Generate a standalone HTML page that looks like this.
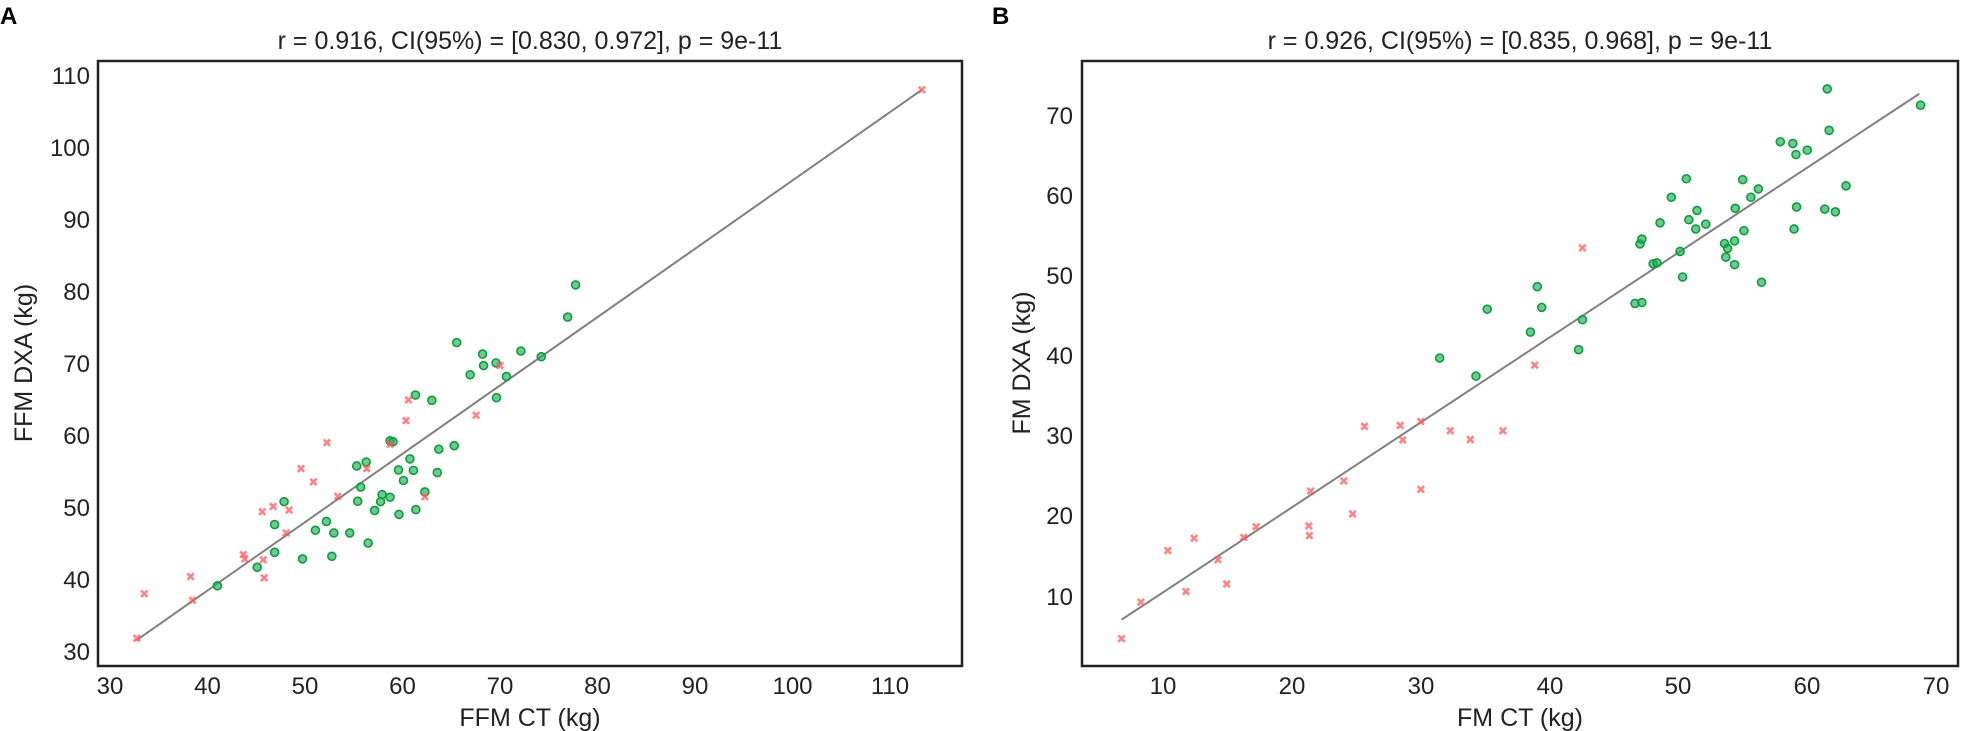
<!DOCTYPE html>
<html><head><meta charset="utf-8"><style>
html,body{margin:0;padding:0;background:#fff}
svg{display:block;font-family:"Liberation Sans",Arial,sans-serif}
</style></head><body>
<svg width="1962" height="731" viewBox="0 0 1962 731" xmlns="http://www.w3.org/2000/svg">
<defs>
<ellipse id="ga" rx="8.04" ry="9.08" fill="rgba(30,175,80,0.65)" stroke="#0e9b40" stroke-width="1.6" vector-effect="non-scaling-stroke"/>
<path id="xa" d="M-6.4,-7.3 L6.4,7.3 M-6.4,7.3 L6.4,-7.3" stroke="rgba(255,90,90,0.75)" stroke-width="2.6" vector-effect="non-scaling-stroke" fill="none"/>
<ellipse id="gb" rx="6.39" ry="9.08" fill="rgba(30,175,80,0.65)" stroke="#0e9b40" stroke-width="1.6" vector-effect="non-scaling-stroke"/>
<path id="xb" d="M-5.1,-7.3 L5.1,7.3 M-5.1,7.3 L5.1,-7.3" stroke="rgba(255,90,90,0.75)" stroke-width="2.6" vector-effect="non-scaling-stroke" fill="none"/>
</defs>
<rect width="1962" height="731" fill="#fff"/>
<text x="0" y="24" font-size="24" font-weight="bold" fill="#000">A</text>
<text x="992" y="24" font-size="24" font-weight="bold" fill="#000">B</text>

<!-- Panel A -->
<text x="530" y="49" font-size="25" text-anchor="middle" fill="#222">r = 0.916, CI(95%) = [0.830, 0.972], p = 9e-11</text>
<g font-size="24" fill="#222" text-anchor="end">
<text x="90" y="84">110</text><text x="90" y="156">100</text><text x="90" y="228">90</text><text x="90" y="300">80</text><text x="90" y="372">70</text><text x="90" y="444">60</text><text x="90" y="516">50</text><text x="90" y="588">40</text><text x="90" y="660">30</text>
</g>
<g font-size="24" fill="#222" text-anchor="middle">
<text x="110" y="694">30</text><text x="207.5" y="694">40</text><text x="305" y="694">50</text><text x="402.5" y="694">60</text><text x="500" y="694">70</text><text x="597.5" y="694">80</text><text x="695" y="694">90</text><text x="792.5" y="694">100</text><text x="890" y="694">110</text>
</g>
<text x="530" y="726" font-size="25" text-anchor="middle" fill="#222">FFM CT (kg)</text>
<text transform="translate(32,363) rotate(-90)" font-size="25" text-anchor="middle" fill="#222">FFM DXA (kg)</text>

<g transform="translate(0,40) scale(0.4975,0.4405)">
<line x1="274" y1="1363" x2="1853" y2="113" stroke="#808080" stroke-width="2" vector-effect="non-scaling-stroke"/>
<g>
<use href="#ga" x="437" y="1239"/><use href="#ga" x="517" y="1197"/><use href="#ga" x="552" y="1163"/><use href="#ga" x="552" y="1100"/><use href="#ga" x="571" y="1048"/><use href="#ga" x="608" y="1178"/><use href="#ga" x="634" y="1113"/><use href="#ga" x="656" y="1093"/><use href="#ga" x="667" y="1172"/><use href="#ga" x="671" y="1119"/><use href="#ga" x="703" y="1119"/><use href="#ga" x="717" y="967"/><use href="#ga" x="719" y="1047"/><use href="#ga" x="725" y="1015"/><use href="#ga" x="736" y="958"/><use href="#ga" x="740" y="1142"/><use href="#ga" x="753" y="1068"/><use href="#ga" x="765" y="1048"/><use href="#ga" x="768" y="1032"/><use href="#ga" x="784" y="1038"/><use href="#ga" x="784" y="910"/><use href="#ga" x="790" y="912"/><use href="#ga" x="801" y="976"/><use href="#ga" x="802" y="1077"/><use href="#ga" x="811" y="1000"/><use href="#ga" x="824" y="951"/><use href="#ga" x="831" y="977"/><use href="#ga" x="836" y="1066"/><use href="#ga" x="835" y="806"/><use href="#ga" x="854" y="1026"/><use href="#ga" x="868" y="818"/><use href="#ga" x="879" y="982"/><use href="#ga" x="882" y="929"/><use href="#ga" x="913" y="921"/><use href="#ga" x="918" y="687"/><use href="#ga" x="945" y="760"/><use href="#ga" x="970" y="713"/><use href="#ga" x="972" y="739"/><use href="#ga" x="997" y="733"/><use href="#ga" x="998" y="812"/><use href="#ga" x="1018" y="764"/><use href="#ga" x="1047" y="706"/><use href="#ga" x="1088" y="719"/><use href="#ga" x="1141" y="629"/><use href="#ga" x="1157" y="556"/>
</g>
<g>
<use href="#xa" x="275" y="1358"/><use href="#xa" x="290" y="1257"/><use href="#xa" x="383" y="1218"/><use href="#xa" x="387" y="1272"/><use href="#xa" x="489" y="1168"/><use href="#xa" x="492" y="1178"/><use href="#xa" x="527" y="1071"/><use href="#xa" x="529" y="1180"/><use href="#xa" x="531" y="1221"/><use href="#xa" x="549" y="1059"/><use href="#xa" x="575" y="1119"/><use href="#xa" x="581" y="1067"/><use href="#xa" x="605" y="973"/><use href="#xa" x="630" y="1003"/><use href="#xa" x="657" y="914"/><use href="#xa" x="679" y="1036"/><use href="#xa" x="737" y="973"/><use href="#xa" x="784" y="918"/><use href="#xa" x="816" y="864"/><use href="#xa" x="821" y="817"/><use href="#xa" x="854" y="1037"/><use href="#xa" x="957" y="852"/><use href="#xa" x="1005" y="739"/><use href="#xa" x="1853" y="113"/>
</g>
</g>
<rect x="98" y="61" width="864" height="605" fill="none" stroke="#222" stroke-width="2.5"/>

<!-- Panel B -->
<text x="1520" y="49" font-size="25" text-anchor="middle" fill="#222">r = 0.926, CI(95%) = [0.835, 0.968], p = 9e-11</text>
<g font-size="24" fill="#222" text-anchor="end">
<text x="1073" y="124">70</text><text x="1073" y="204">60</text><text x="1073" y="284">50</text><text x="1073" y="364">40</text><text x="1073" y="444">30</text><text x="1073" y="524">20</text><text x="1073" y="605">10</text>
</g>
<g font-size="24" fill="#222" text-anchor="middle">
<text x="1163" y="694">10</text><text x="1292" y="694">20</text><text x="1421" y="694">30</text><text x="1550" y="694">40</text><text x="1678" y="694">50</text><text x="1807" y="694">60</text><text x="1936" y="694">70</text>
</g>
<text x="1520" y="726" font-size="25" text-anchor="middle" fill="#222">FM CT (kg)</text>
<text transform="translate(1030,363) rotate(-90)" font-size="25" text-anchor="middle" fill="#222">FM DXA (kg)</text>

<g transform="translate(980,40) scale(0.6262,0.4405)">
<line x1="226" y1="1316" x2="1500" y2="122" stroke="#808080" stroke-width="2" vector-effect="non-scaling-stroke"/>
<g>
<use href="#gb" x="734" y="722"/><use href="#gb" x="792" y="763"/><use href="#gb" x="810" y="611"/><use href="#gb" x="879" y="663"/><use href="#gb" x="890" y="560"/><use href="#gb" x="897" y="607"/><use href="#gb" x="956" y="703"/><use href="#gb" x="962" y="635"/><use href="#gb" x="1046" y="598"/><use href="#gb" x="1057" y="596"/><use href="#gb" x="1054" y="463"/><use href="#gb" x="1057" y="452"/><use href="#gb" x="1075" y="508"/><use href="#gb" x="1081" y="506"/><use href="#gb" x="1086" y="415"/><use href="#gb" x="1104" y="357"/><use href="#gb" x="1118" y="480"/><use href="#gb" x="1122" y="538"/><use href="#gb" x="1128" y="315"/><use href="#gb" x="1132" y="408"/><use href="#gb" x="1143" y="429"/><use href="#gb" x="1145" y="387"/><use href="#gb" x="1159" y="418"/><use href="#gb" x="1189" y="462"/><use href="#gb" x="1191" y="493"/><use href="#gb" x="1194" y="473"/><use href="#gb" x="1205" y="456"/><use href="#gb" x="1205" y="510"/><use href="#gb" x="1206" y="382"/><use href="#gb" x="1218" y="317"/><use href="#gb" x="1220" y="433"/><use href="#gb" x="1231" y="357"/><use href="#gb" x="1243" y="338"/><use href="#gb" x="1248" y="550"/><use href="#gb" x="1278" y="231"/><use href="#gb" x="1298" y="235"/><use href="#gb" x="1300" y="429"/><use href="#gb" x="1303" y="260"/><use href="#gb" x="1304" y="379"/><use href="#gb" x="1321" y="250"/><use href="#gb" x="1349" y="384"/><use href="#gb" x="1353" y="111"/><use href="#gb" x="1356" y="205"/><use href="#gb" x="1366" y="390"/><use href="#gb" x="1383" y="331"/><use href="#gb" x="1502" y="148"/>
</g>
<g>
<use href="#xb" x="226" y="1359"/><use href="#xb" x="257" y="1276"/><use href="#xb" x="300" y="1159"/><use href="#xb" x="329" y="1252"/><use href="#xb" x="342" y="1131"/><use href="#xb" x="380" y="1180"/><use href="#xb" x="394" y="1235"/><use href="#xb" x="421" y="1129"/><use href="#xb" x="441" y="1105"/><use href="#xb" x="525" y="1103"/><use href="#xb" x="526" y="1125"/><use href="#xb" x="528" y="1024"/><use href="#xb" x="581" y="1001"/><use href="#xb" x="595" y="1076"/><use href="#xb" x="614" y="877"/><use href="#xb" x="671" y="875"/><use href="#xb" x="675" y="908"/><use href="#xb" x="704" y="866"/><use href="#xb" x="704" y="1020"/><use href="#xb" x="751" y="887"/><use href="#xb" x="783" y="907"/><use href="#xb" x="835" y="887"/><use href="#xb" x="886" y="738"/><use href="#xb" x="962" y="472"/>
</g>
</g>
<rect x="1082" y="61" width="876" height="605" fill="none" stroke="#222" stroke-width="2.5"/>
</svg>
</body></html>
